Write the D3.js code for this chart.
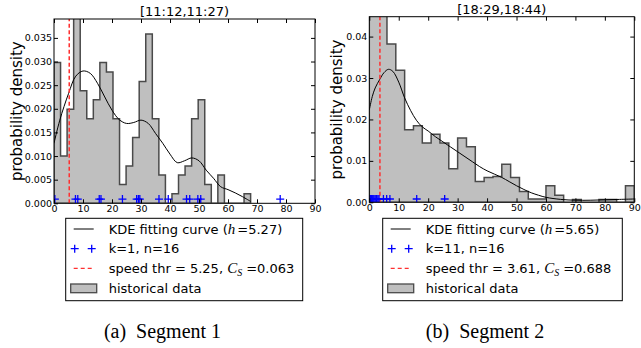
<!DOCTYPE html>
<html>
<head>
<meta charset="utf-8">
<script src="https://cdn.jsdelivr.net/npm/d3@7"></script>
<style>
body { margin: 0; background: #fff; }
svg { display: block; font-family: "DejaVu Sans", sans-serif; }
</style>
</head>
<body>
<svg width="641" height="348"></svg>
<script>
// ---- data ----
const titles = ['[11:12,11:27)', '[18:29,18:44)'];
const captions = ['(a)  Segment 1', '(b)  Segment 2'];
const xTicks = [0, 10, 20, 30, 40, 50, 60, 70, 80, 90];
const yTicks1 = [0, 0.005, 0.010, 0.015, 0.020, 0.025, 0.030, 0.035];
const yTicks2 = [0, 0.01, 0.02, 0.03, 0.04];

// histogram (density per bin), bins start at 0
const binWidth1 = 2.26;
const hist1 = [0.0298, 0.0100, 0.0199, 0.0600, 0.0238, 0.0179, 0.0219, 0.0298, 0.0278, 0.0179,
               0.0040, 0.0079, 0.0139, 0.0258, 0.0358, 0.0179, 0.0060, 0, 0.0020, 0.0060,
               0.0079, 0.0179, 0.0219, 0.0040, 0, 0.0060, 0, 0, 0, 0.0020];
const binWidth2 = 3;
const hist2 = [0.0500, 0.0470, 0.0382, 0.0319, 0.0175, 0.0185, 0.0143, 0.0164, 0.0143, 0.0081,
               0.0155, 0.0134, 0.0050, 0.0060, 0.0062, 0.0092, 0.0060, 0.0026, 0.0008, 0.0008,
               0.0040, 0.0017, 0, 0.0007, 0, 0, 0.0007, 0.0007, 0, 0.0040];

// KDE curves
const kdeX1 = [0, 2, 5, 7.5, 10, 12.5, 15, 17.5, 20, 22.5, 25, 27.5, 30, 32.5, 35, 37.5, 40,
               42.5, 45, 47.5, 50, 52.5, 55, 57.5, 60, 62.5, 65, 67.8];
const kdeY1 = [0.0127, 0.0176, 0.0232, 0.0269, 0.0280, 0.0275, 0.0254, 0.0225, 0.0197, 0.0177,
               0.0169, 0.0171, 0.0176, 0.0169, 0.0148, 0.0127, 0.0104, 0.0086, 0.0090, 0.0096,
               0.0090, 0.0070, 0.0053, 0.0035, 0.0029, 0.0022, 0.0014, 0.0004];
const kdeX2 = [0, 1, 2, 3.5, 5, 6.5, 8, 10, 12, 14, 16, 18, 20, 22.5, 25, 27.5, 30, 32.5, 35,
               37.5, 40, 42.5, 45, 47.5, 50, 52.5, 55, 57.5, 60, 65, 70, 75, 80, 85, 90];
const kdeY2 = [0.0223, 0.0255, 0.0276, 0.0296, 0.0313, 0.0321, 0.0316, 0.0290, 0.0252, 0.0222,
               0.0198, 0.0182, 0.0172, 0.0158, 0.0146, 0.0134, 0.0122, 0.0110, 0.0098, 0.0086,
               0.0076, 0.0068, 0.0060, 0.0050, 0.0040, 0.0031, 0.0023, 0.0017, 0.0012, 0.0007,
               0.0005, 0.0005, 0.0006, 0.0007, 0.0008];

// current speed samples (blue pluses)
const pts1 = [0.3, 7.4, 8.2, 15.6, 16.2, 23.6, 28.5, 29.1, 29.6, 36.2, 39.4, 45.7, 46.8, 49.6, 50.6, 78.0];
const pts2 = [0.2, 0.4, 0.6, 0.8, 1.0, 1.3, 1.6, 2.0, 2.4, 2.9, 3.3, 4.8, 5.9, 7.0, 16.1, 25.6];
const ptsLevel = [0.0009, 0.0008];

const thresholds = [5.25, 3.61];
const bandwidths = ['5.27', '5.65'];
const kVals = [1, 11];
const nVals = [16, 16];
const csVals = ['0.063', '0.688'];

// ---- layout ----
const panels = [
  { left: 54, right: 315, top: 19, bottom: 203.3, ymax: 0.039, yTicks: yTicks1, fmt: '.3f',
    hist: hist1, bw: binWidth1, kx: kdeX1, ky: kdeY1, pts: pts1, labelX: 21.5,
    legLeft: 65.7, legW: 237, capX: 162.5 },
  { left: 369.3, right: 634.3, top: 16.7, bottom: 202.3, ymax: 0.0448, yTicks: yTicks2, fmt: '.2f',
    hist: hist2, bw: binWidth2, kx: kdeX2, ky: kdeY2, pts: pts2, labelX: 341.5,
    legLeft: 382.7, legW: 239.6, capX: 485 }
];

const svg = d3.select('svg');
const plusPath = 'M-4,0H4M0,-4V4';
const serif = '"Liberation Serif", "Times New Roman", serif';

panels.forEach((p, i) => {
  const x = d3.scaleLinear().domain([0, 90]).range([p.left, p.right]);
  const y = d3.scaleLinear().domain([0, p.ymax]).range([p.bottom, p.top]);
  const g = svg.append('g');

  g.append('clipPath').attr('id', 'clip' + i)
    .append('rect')
    .attr('x', p.left).attr('y', p.top)
    .attr('width', p.right - p.left).attr('height', p.bottom - p.top);

  const plot = g.append('g').attr('clip-path', `url(#clip${i})`);

  // step-filled histogram
  const step = [[0, 0]];
  p.hist.forEach((h, j) => {
    step.push([j * p.bw, h]);
    step.push([(j + 1) * p.bw, h]);
  });
  step.push([p.hist.length * p.bw, 0]);
  plot.append('path')
    .attr('d', d3.line().x(d => x(d[0])).y(d => y(d[1]))(step) + 'Z')
    .attr('fill', '#bfbfbf')
    .attr('stroke', '#4a4a4a')
    .attr('stroke-width', 1.5);

  // KDE
  plot.append('path')
    .attr('d', d3.line().x(d => x(d[0])).y(d => y(d[1])).curve(d3.curveCatmullRom)(d3.zip(p.kx, p.ky)))
    .attr('fill', 'none')
    .attr('stroke', '#000')
    .attr('stroke-width', 1);

  // threshold
  plot.append('line')
    .attr('x1', x(thresholds[i])).attr('x2', x(thresholds[i]))
    .attr('y1', y(0)).attr('y2', p.top)
    .attr('stroke', '#ff3030')
    .attr('stroke-width', 1.5)
    .attr('stroke-dasharray', '4,2.5');

  // samples
  plot.selectAll('path.pt').data(p.pts).enter().append('path')
    .attr('class', 'pt')
    .attr('d', plusPath)
    .attr('transform', d => `translate(${x(d)},${y(ptsLevel[i])})`)
    .attr('stroke', '#0000ff')
    .attr('stroke-width', 1.3);

  // axes, ticks inward on all sides
  const fmt = d3.format(p.fmt);
  const ax = [
    g.append('g').attr('transform', `translate(0,${p.bottom})`)
      .call(d3.axisBottom(x).tickValues(xTicks).tickSizeInner(-4).tickSizeOuter(0).tickPadding(2)),
    g.append('g').attr('transform', `translate(0,${p.top})`)
      .call(d3.axisTop(x).tickValues(xTicks).tickSizeInner(-4).tickSizeOuter(0).tickFormat('')),
    g.append('g').attr('transform', `translate(${p.left},0)`)
      .call(d3.axisLeft(y).tickValues(p.yTicks).tickFormat(fmt).tickSizeInner(-4).tickSizeOuter(0).tickPadding(2)),
    g.append('g').attr('transform', `translate(${p.right},0)`)
      .call(d3.axisRight(y).tickValues(p.yTicks).tickSizeInner(-4).tickSizeOuter(0).tickFormat(''))
  ];
  ax.forEach(a => {
    a.attr('font-family', null).attr('font-size', null);
    a.selectAll('text').attr('font-size', 9.5).attr('fill', '#000');
    a.select('.domain').remove();
  });

  g.append('rect')
    .attr('x', p.left).attr('y', p.top)
    .attr('width', p.right - p.left).attr('height', p.bottom - p.top)
    .attr('fill', 'none').attr('stroke', '#000').attr('stroke-width', 1);

  // title
  g.append('text')
    .attr('x', (p.left + p.right) / 2).attr('y', p.top - 3)
    .attr('text-anchor', 'middle').attr('font-size', 13)
    .text(titles[i]);

  // y label
  g.append('text')
    .attr('transform', `translate(${p.labelX},${(p.top + p.bottom) / 2}) rotate(-90)`)
    .attr('text-anchor', 'middle').attr('font-size', 15)
    .text('probability density');

  // legend
  const lx = p.legLeft, ly = 218.3;
  const leg = g.append('g');
  leg.append('rect')
    .attr('x', lx).attr('y', ly).attr('width', p.legW).attr('height', 82.4)
    .attr('fill', '#fff').attr('stroke', '#000').attr('stroke-width', 1);
  const rows = [229, 248.7, 268.3, 288.3];
  leg.append('line')
    .attr('x1', lx + 8).attr('x2', lx + 28).attr('y1', rows[0]).attr('y2', rows[0])
    .attr('stroke', '#000').attr('stroke-width', 1);
  [lx + 9, lx + 26].forEach(px => leg.append('path')
    .attr('d', plusPath).attr('transform', `translate(${px},${rows[1]})`)
    .attr('stroke', '#0000ff').attr('stroke-width', 1.3));
  leg.append('line')
    .attr('x1', lx + 8).attr('x2', lx + 28).attr('y1', rows[2]).attr('y2', rows[2])
    .attr('stroke', '#ff3030').attr('stroke-width', 1.3).attr('stroke-dasharray', '4,3');
  leg.append('rect')
    .attr('x', lx + 5).attr('y', rows[3] - 4.3).attr('width', 26).attr('height', 8.7)
    .attr('fill', '#bfbfbf').attr('stroke', '#4a4a4a').attr('stroke-width', 1.3);

  const tx = lx + 43, fs = 13;
  const t0 = leg.append('text').attr('x', tx).attr('y', rows[0] + 4.6).attr('font-size', fs);
  t0.append('tspan').text('KDE fitting curve (');
  t0.append('tspan').style('font-family', serif).style('font-style', 'italic').attr('font-size', 15).text('h');
  t0.append('tspan').attr('dx', 2).text('=' + bandwidths[i] + ')');
  leg.append('text').attr('x', tx).attr('y', rows[1] + 4.6).attr('font-size', fs)
    .text(`k=${kVals[i]}, n=${nVals[i]}`);
  const t2 = leg.append('text').attr('x', tx).attr('y', rows[2] + 4.6).attr('font-size', fs);
  t2.append('tspan').text(`speed thr = ${thresholds[i]}, `);
  t2.append('tspan').style('font-family', serif).style('font-style', 'italic').attr('font-size', 15).text('C');
  t2.append('tspan').style('font-family', serif).style('font-style', 'italic').attr('font-size', 10).attr('dy', 3).text('S');
  t2.append('tspan').attr('dy', -3).attr('dx', 4).text('=' + csVals[i]);
  leg.append('text').attr('x', tx).attr('y', rows[3] + 4.6).attr('font-size', fs)
    .text('historical data');

  // caption
  g.append('text')
    .attr('x', p.capX).attr('y', 337.7)
    .attr('text-anchor', 'middle')
    .style('font-family', serif)
    .style('white-space', 'pre')
    .attr('font-size', 20)
    .text(captions[i]);
});
</script>
</body>
</html>
